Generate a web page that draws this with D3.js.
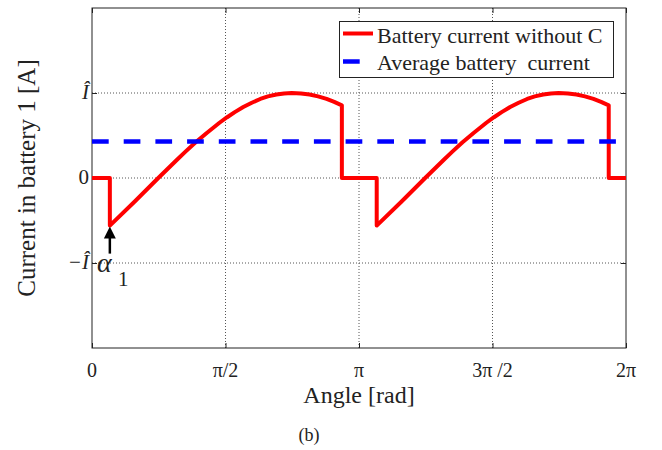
<!DOCTYPE html>
<html>
<head>
<meta charset="utf-8">
<script src="https://cdn.jsdelivr.net/npm/d3@7"></script>
<style>
  html, body { margin: 0; padding: 0; background: #fff; }
  svg text { font-family: "Liberation Serif", "Times New Roman", serif; fill: #222; }
</style>
</head>
<body>
<svg id="chart" width="662" height="450"></svg>
<script>
// ---- data ----
const angles = [0, 0.21, 0.21, 0.50, 0.78, 1.00, 1.10, 1.22, 1.35, 1.50, 1.59, 1.68, 1.78, 1.88, 1.98, 2.07, 2.17, 2.26, 2.35, 2.46, 2.56, 2.66, 2.76, 2.85, 2.94, 2.94,
                3.35, 3.35, 3.64, 3.92, 4.14, 4.24, 4.36, 4.49, 4.64, 4.73, 4.82, 4.92, 5.02, 5.12, 5.21, 5.31, 5.40, 5.49, 5.60, 5.70, 5.80, 5.90, 5.99, 6.08, 6.08, 6.2832];
const currents = [0, 0, -0.56, -0.28, 0, 0.215, 0.31, 0.42, 0.53, 0.65, 0.715, 0.775, 0.835, 0.885, 0.93, 0.96, 0.982, 0.995, 1.0, 0.995, 0.982, 0.96, 0.93, 0.895, 0.855, 0,
                  0, -0.56, -0.28, 0, 0.215, 0.31, 0.42, 0.53, 0.65, 0.715, 0.775, 0.835, 0.885, 0.93, 0.96, 0.982, 0.995, 1.0, 0.995, 0.982, 0.96, 0.93, 0.895, 0.855, 0, 0];
const averageCurrent = 0.43;
const xTickValues = [0, Math.PI / 2, Math.PI, 3 * Math.PI / 2, 2 * Math.PI];
const xTickLabels = ["0", "π/2", "π", "3π /2", "2π"];
const yTickValues = [-1, 0, 1];
const yTickLabels = ["−Î", "0", "Î"];
const legendLabels = ["Battery current without C", "Average battery  current"];
const alphaAngle = 0.21;
const alphaValue = -0.56;

// ---- layout ----
const svg = d3.select("#chart");
const L = 92, R = 626, T = 8, B = 348;
const x = d3.scaleLinear().domain([0, 2 * Math.PI]).range([L, R]);
const y = d3.scaleLinear().domain([-2, 2]).range([B, T]);

// grid
const grid = svg.append("g");
grid.selectAll("line.gx").data(xTickValues.slice(1, 4)).enter().append("line")
  .attr("x1", d => x(d)).attr("x2", d => x(d)).attr("y1", T).attr("y2", B)
  .attr("stroke", "#555").attr("stroke-width", 1).attr("stroke-dasharray", "1,2");
grid.selectAll("line.gy").data(yTickValues).enter().append("line")
  .attr("x1", L).attr("x2", R).attr("y1", d => y(d)).attr("y2", d => y(d))
  .attr("stroke", "#555").attr("stroke-width", 1).attr("stroke-dasharray", "1,2");

// axes (ticks inside, MATLAB style)
const xAxisB = d3.axisBottom(x).tickValues(xTickValues).tickSize(-5).tickFormat("");
const xAxisT = d3.axisTop(x).tickValues(xTickValues).tickSize(-5).tickFormat("");
const yAxisL = d3.axisLeft(y).tickValues(yTickValues).tickSize(-5).tickFormat("");
const yAxisR = d3.axisRight(y).tickValues(yTickValues).tickSize(-5).tickFormat("");
[[xAxisB, `translate(0,${B})`], [xAxisT, `translate(0,${T})`], [yAxisL, `translate(${L},0)`], [yAxisR, `translate(${R},0)`]]
  .forEach(([ax, tr]) => {
    const g = svg.append("g").attr("transform", tr).call(ax);
    g.select(".domain").remove();
    g.selectAll("line").attr("stroke", "#222");
  });
svg.append("rect").attr("x", L).attr("y", T).attr("width", R - L).attr("height", B - T)
  .attr("fill", "none").attr("stroke", "#222").attr("stroke-width", 1);

// tick labels
svg.selectAll("text.xt").data(xTickValues).enter().append("text")
  .attr("x", d => x(d)).attr("y", 377).attr("text-anchor", "middle")
  .attr("font-size", 20).text((d, i) => xTickLabels[i]);
svg.selectAll("text.yt").data(yTickValues).enter().append("text")
  .attr("x", 89).attr("y", d => y(d) + 6).attr("text-anchor", "end")
  .attr("font-size", 21)
  .attr("font-style", (d, i) => yTickLabels[i] === "0" ? "normal" : "italic")
  .text((d, i) => yTickLabels[i]);

// axis labels
svg.append("text").attr("x", 359).attr("y", 403).attr("text-anchor", "middle")
  .attr("font-size", 24).text("Angle [rad]");
svg.append("text").attr("transform", "translate(35,178) rotate(-90)").attr("text-anchor", "middle")
  .attr("font-size", 25).text("Current in battery 1 [A]");
svg.append("text").attr("x", 309).attr("y", 441).attr("text-anchor", "middle")
  .attr("font-size", 18).text("(b)");

// series
const pts = angles.map((a, i) => [a, currents[i]]);
svg.append("path").datum(pts)
  .attr("d", d3.line().x(d => x(d[0])).y(d => y(d[1])))
  .attr("fill", "none").attr("stroke", "#ff0000").attr("stroke-width", 4)
  .attr("stroke-linejoin", "round");
svg.append("path").datum([[0, averageCurrent], [2 * Math.PI, averageCurrent]])
  .attr("d", d3.line().x(d => x(d[0])).y(d => y(d[1])))
  .attr("fill", "none").attr("stroke", "#0000ff").attr("stroke-width", 4.5)
  .attr("stroke-dasharray", "16.7,15");

// alpha annotation
const ax0 = x(alphaAngle), ay0 = y(alphaValue);
svg.append("line").attr("x1", ax0).attr("x2", ax0).attr("y1", ay0 + 10).attr("y2", ay0 + 28)
  .attr("stroke", "#000").attr("stroke-width", 2.5);
svg.append("path")
  .attr("d", `M${ax0},${ay0 + 1} L${ax0 - 6},${ay0 + 13} L${ax0 + 6},${ay0 + 13} Z`)
  .attr("fill", "#000");
svg.append("text").attr("x", 97).attr("y", 272).attr("font-size", 28).attr("font-style", "italic").text("α");
svg.append("text").attr("x", 118).attr("y", 286).attr("font-size", 21).text("1");

// legend
const lg = svg.append("g");
lg.append("rect").attr("x", 339.5).attr("y", 21.5).attr("width", 274).attr("height", 56)
  .attr("fill", "#fff").attr("stroke", "#222").attr("stroke-width", 1);
lg.append("line").attr("x1", 343).attr("x2", 373).attr("y1", 33.5).attr("y2", 33.5)
  .attr("stroke", "#ff0000").attr("stroke-width", 4);
lg.append("line").attr("x1", 343).attr("x2", 373).attr("y1", 61.5).attr("y2", 61.5)
  .attr("stroke", "#0000ff").attr("stroke-width", 4.5).attr("stroke-dasharray", "16.7,15");
lg.selectAll("text.lt").data(legendLabels).enter().append("text")
  .attr("x", 377).attr("y", (d, i) => 43 + i * 27).attr("font-size", 22)
  .style("white-space", "pre").text(d => d);
</script>
</body>
</html>
